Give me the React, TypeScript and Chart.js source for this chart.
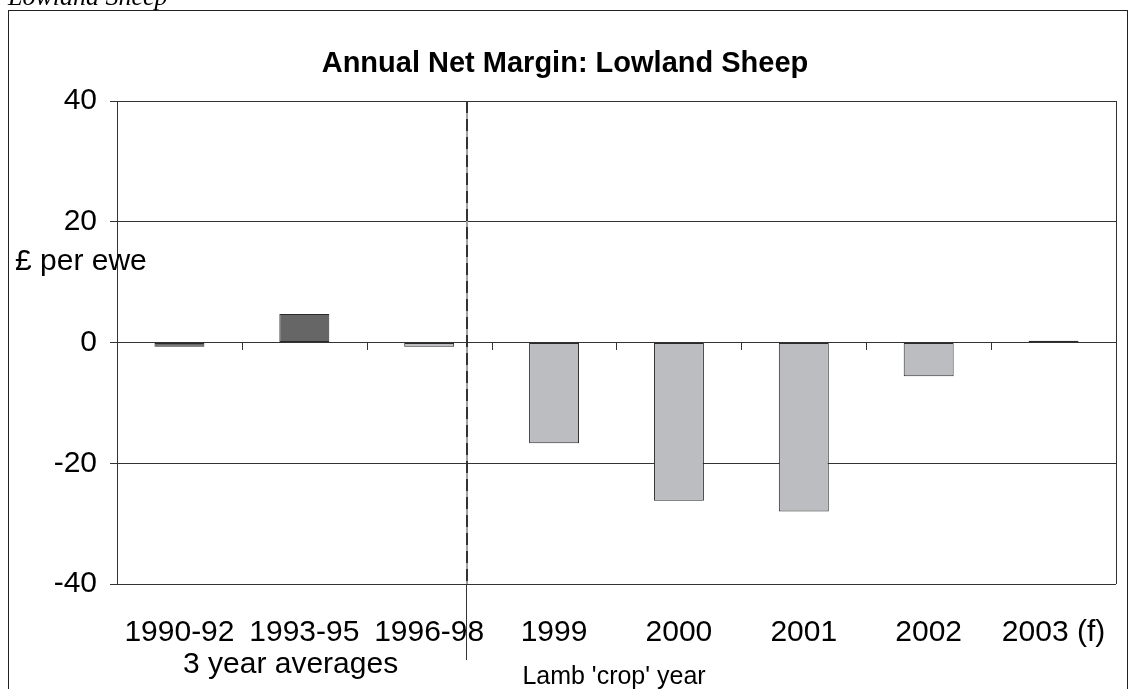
import { useEffect, useRef } from "react";
import { Chart, registerables } from "chart.js";

Chart.register(...registerables);

const categories = ["1990-92", "1993-95", "1996-98", "1999", "2000", "2001", "2002", "2003 (f)"];
const netMargin = [-0.7, 4.7, -0.7, -16.7, -26.2, -28.0, -5.6, 0.3];
const barColors = ["#666666", "#666666", "#bcbdc1", "#bcbdc1", "#bcbdc1", "#bcbdc1", "#bcbdc1", "#bcbdc1"];
const yTicks = [-40, -20, 0, 20, 40];
const titleText = "Annual Net Margin: Lowland Sheep";
const headingText = "Lowland Sheep";
const yAxisLabel = "£ per ewe";
const groupLabelLeft = "3 year averages";
const groupLabelRight = "Lamb 'crop' year";
const dividerAt = 2.3; // category-scale value of the divider line

const SANS = '"Liberation Sans", Arial, sans-serif';

const decorPlugin = {
  id: "decor",
  afterDraw(chart: any) {
    const ctx = chart.ctx;
    const area = chart.chartArea;
    const xs = chart.scales.x;
    const ys = chart.scales.y;
    ctx.save();

    // outer frame
    ctx.strokeStyle = "#222";
    ctx.lineWidth = 1;
    ctx.strokeRect(8.5, 10.5, 1119, 700);

    // cut-off heading
    ctx.fillStyle = "#000";
    ctx.font = 'italic 26px "Liberation Serif", "Times New Roman", serif';
    ctx.textAlign = "left";
    ctx.textBaseline = "alphabetic";
    ctx.fillText(headingText, 8, 5);

    // right border of plot area
    ctx.strokeStyle = "#333";
    ctx.beginPath();
    ctx.moveTo(Math.round(area.right) + 0.5, area.top);
    ctx.lineTo(Math.round(area.right) + 0.5, area.bottom);
    ctx.stroke();

    // x tick marks at the zero line
    const y0 = Math.round(ys.getPixelForValue(0));
    ctx.strokeStyle = "#333";
    ctx.beginPath();
    for (let i = 1; i < categories.length; i++) {
      const xb = Math.round((xs.getPixelForValue(i - 1) + xs.getPixelForValue(i)) / 2) + 0.5;
      ctx.moveTo(xb, y0);
      ctx.lineTo(xb, y0 + 7);
    }
    ctx.stroke();

    // divider line
    const xd = Math.round(xs.getPixelForValue(dividerAt));
    ctx.lineWidth = 2;
    ctx.strokeStyle = "#a0a0a0";
    ctx.beginPath();
    ctx.moveTo(xd, area.top);
    ctx.lineTo(xd, area.bottom);
    ctx.stroke();
    ctx.strokeStyle = "#333";
    ctx.setLineDash([12, 6]);
    ctx.beginPath();
    ctx.moveTo(xd, area.top);
    ctx.lineTo(xd, area.bottom);
    ctx.stroke();
    ctx.setLineDash([]);
    ctx.lineWidth = 1;
    ctx.strokeStyle = "#333";
    ctx.beginPath();
    ctx.moveTo(xd - 0.5, area.bottom);
    ctx.lineTo(xd - 0.5, 660);
    ctx.stroke();

    // title
    ctx.fillStyle = "#000";
    ctx.font = `bold 29px ${SANS}`;
    ctx.textAlign = "center";
    ctx.textBaseline = "alphabetic";
    ctx.fillText(titleText, 565, 72);

    // y axis label
    ctx.font = `30px ${SANS}`;
    ctx.textAlign = "left";
    ctx.fillText(yAxisLabel, 15, 270);

    // group labels
    ctx.textAlign = "center";
    ctx.font = `30px ${SANS}`;
    ctx.fillText(groupLabelLeft, xs.getPixelForValue(0.89), 673);
    ctx.font = `25px ${SANS}`;
    ctx.fillText(groupLabelRight, xs.getPixelForValue(3.48), 684);

    ctx.restore();
  },
};

export default function App() {
  const ref = useRef<HTMLCanvasElement | null>(null);

  useEffect(() => {
    const canvas = ref.current;
    if (!canvas) return;
    const chart = new Chart(canvas, {
      type: "bar",
      data: {
        labels: categories,
        datasets: [
          {
            data: netMargin,
            backgroundColor: barColors,
            borderColor: "#2a2a2a",
            borderWidth: 1,
            borderSkipped: false,
            barPercentage: 0.4,
            categoryPercentage: 1,
          },
        ],
      },
      options: {
        responsive: false,
        animation: false,
        layout: { padding: { top: 101, left: 0, right: 12, bottom: 0 } },
        plugins: {
          legend: { display: false },
          title: { display: false },
          tooltip: { enabled: false },
        },
        scales: {
          x: {
            offset: true,
            grid: { display: false },
            border: { display: false },
            ticks: {
              color: "#000",
              font: { family: SANS, size: 30 },
              padding: 23,
              maxRotation: 0,
              autoSkip: false,
            },
            afterFit(scale: any) {
              scale.height = 105;
            },
          },
          y: {
            min: -40,
            max: 40,
            afterBuildTicks(scale: any) {
              scale.ticks = yTicks.map((v) => ({ value: v }));
            },
            grid: { color: "#333", lineWidth: 1, tickLength: 7, drawTicks: true },
            border: { display: true, color: "#333", width: 1 },
            ticks: {
              color: "#000",
              font: { family: SANS, size: 30 },
              padding: 13,
              callback: (v: any) => String(v),
            },
            afterFit(scale: any) {
              scale.width = 117;
            },
          },
        },
      },
      plugins: [decorPlugin],
    });
    return () => chart.destroy();
  }, []);

  return (
    <div style={{ position: "absolute", left: 0, top: 0, width: 1129, height: 689, background: "#fff" }}>
      <canvas ref={ref} width={1129} height={689} style={{ display: "block", width: 1129, height: 689 }} />
    </div>
  );
}
